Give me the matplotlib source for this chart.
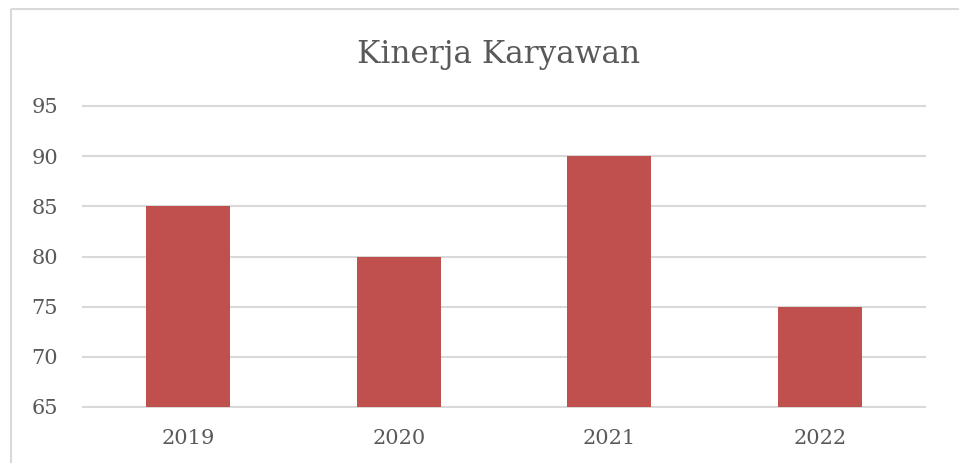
import matplotlib
matplotlib.use("Agg")
import matplotlib.pyplot as plt
from matplotlib.lines import Line2D

categories = ["2019", "2020", "2021", "2022"]
values = [85, 80, 90, 75]
yticks = [65, 70, 75, 80, 85, 90, 95]
title = "Kinerja Karyawan"

W, H = 959, 463
fig = plt.figure(figsize=(W/100, H/100), dpi=100)
fig.patch.set_facecolor("white")

# chart border (only top and left edges visible in the crop)
bx, by = 10.5/W, 1 - 8.5/H
fig.add_artist(Line2D([bx, 1.0], [by, by], transform=fig.transFigure,
                      color="#D9D9D9", linewidth=1.5, solid_capstyle="butt"))
fig.add_artist(Line2D([bx, bx], [by, 0.0], transform=fig.transFigure,
                      color="#D9D9D9", linewidth=1.5, solid_capstyle="butt"))

ax = fig.add_axes([83/W, 1-407/H, (925-83)/W, (407-106)/H])
x = range(len(categories))
ax.bar(x, [v - 65 for v in values], bottom=65, width=0.4, color="#C0504D", zorder=3)
ax.set_xlim(-0.5, len(categories) - 0.5)
ax.set_ylim(65, 95)
ax.set_yticks(yticks)
ax.set_xticks(list(x))
ax.set_xticklabels(categories)
for s in ax.spines.values():
    s.set_visible(False)
ax.grid(axis="y", color="#D9D9D9", linewidth=1.5, zorder=0)
for gl in ax.get_ygridlines():
    gl.set_clip_on(False)
ax.tick_params(length=0, colors="#595959", labelsize=15)
ax.tick_params(axis="y", pad=18)
ax.tick_params(axis="x", pad=16)
for lab in ax.get_xticklabels() + ax.get_yticklabels():
    lab.set_fontfamily("DejaVu Serif")
fig.text(499/W, 1-55/H, title, ha="center", va="center", fontsize=22.5,
         color="#595959", family="DejaVu Serif")
fig.savefig("out.png", dpi=100)
